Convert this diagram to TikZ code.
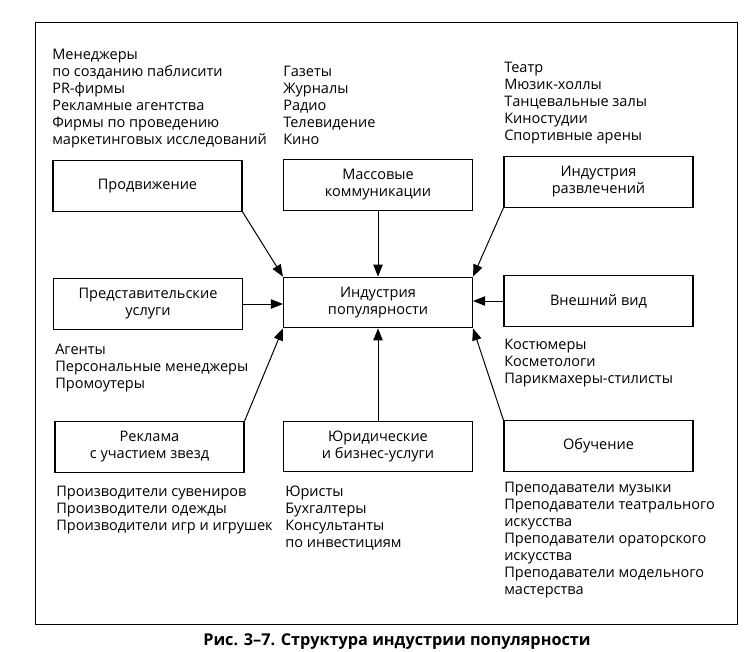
\documentclass[tikz,border=0pt]{standalone}
\usepackage{fontspec}
\setmainfont{Open Sans}
\usetikzlibrary{arrows.meta}

\begin{document}
\begin{tikzpicture}[x=0.75pt,y=0.75pt,yscale=-1,xscale=1,
  box/.style={draw, line width=0.8pt, minimum width=141.75pt, minimum height=38pt, inner sep=0pt, align=center, font=\fontsize{10.9}{12.75}\selectfont},
  list/.style={anchor=north west, inner sep=0pt, align=left, font=\fontsize{10.9}{12.75}\selectfont},
  arr/.style={-{Triangle[length=9pt,width=7pt]}, line width=0.75pt}]
\useasboundingbox (0,0) rectangle (756,652);

%Frame
\draw [line width=0.75pt] (35,23) rectangle (737,624);

% Boxes
\node [box] (prom) at (147.5,186) {Продвижение};
\node [box] (mass) at (378,185) {Массовые\\коммуникации};
\node [box] (razv) at (598.5,182) {Индустрия\\развлечений};
\node [box] (pop) at (378,302.5) {Индустрия\\популярности};
\node [box] (pred) at (148,304) {Представительские\\услуги};
\node [box] (vnesh) at (598.5,301) {Внешний вид};
\node [box] (rekl) at (149.5,447) {Реклама\\с участием звезд};
\node [box] (yur) at (378,446.5) {Юридические\\и бизнес-услуги};
\node [box] (obuch) at (598.5,446) {Обучение};

% Text Node
\node [list] (promlist) at (52,49) {Менеджеры\\по созданию паблисити\\PR-фирмы\\Рекламные агентства\\Фирмы по проведению\\маркетинговых исследований};
% Text Node
\node [list] (masslist) at (283,66) {Газеты\\Журналы\\Радио\\Телевидение\\Кино};
% Text Node
\node [list] (razvlist) at (504,62) {Театр\\Мюзик-холлы\\Танцевальные залы\\Киностудии\\Спортивные арены};
% Text Node
\node [list] (predlist) at (55,344) {Агенты\\Персональные менеджеры\\Промоутеры};
% Text Node
\node [list] (vneshlist) at (504,339) {Костюмеры\\Косметологи\\Парикмахеры-стилисты};
% Text Node
\node [list] (rekllist) at (56,486) {Производители сувениров\\Производители одежды\\Производители игр и игрушек};
% Text Node
\node [list] (yurlist) at (285,486) {Юристы\\Бухгалтеры\\Консультанты\\по инвестициям};
% Text Node
\node [list] (obuchlist) at (504,482) {Преподаватели музыки\\Преподаватели театрального\\искусства\\Преподаватели ораторского\\искусства\\Преподаватели модельного\\мастерства};

% Caption
\node [font=\fontsize{12.2}{14}\selectfont\bfseries, inner sep=0pt] (caption) at (397,642) {Рис. 3–7. Структура индустрии популярности};

%Straight Lines
\draw [arr] (prom.south east) -- (pop.north west);
\draw [arr] (mass.south) -- (pop.north);
\draw [arr] (razv.south west) -- (pop.north east);
\draw [arr] (pred.east) -- (pred.east -| pop.west);
\draw [arr] (vnesh.west) -- (vnesh.west -| pop.east);
\draw [arr] (rekl.north east) -- (pop.south west);
\draw [arr] (yur.north) -- (pop.south);
\draw [arr] (obuch.north west) -- (pop.south east);

\end{tikzpicture}
\end{document}
